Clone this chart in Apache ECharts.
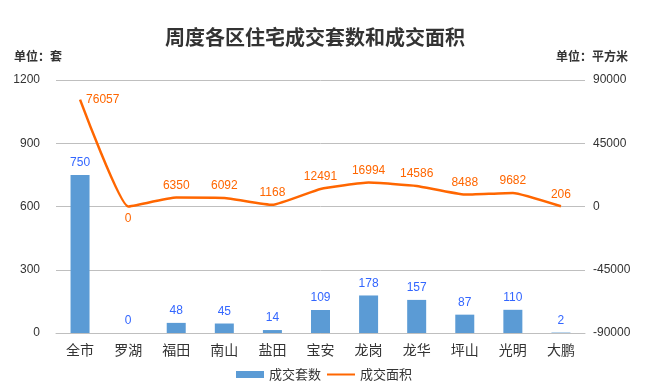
<!DOCTYPE html>
<html><head><meta charset="utf-8">
<script src="https://cdn.jsdelivr.net/npm/echarts@6/dist/echarts.min.js"></script>
<style>html,body{margin:0;padding:0;background:#fff}#c{width:648px;height:390px}</style>
</head><body><div id="c"></div>
<script>
var categories = ['全市','罗湖','福田','南山','盐田','宝安','龙岗','龙华','坪山','光明','大鹏'];
var units = [750,0,48,45,14,109,178,157,87,110,2];
var areas = [76057,0,6350,6092,1168,12491,16994,14586,8488,9682,206];
var leftTicks = [0,300,600,900,1200];
var rightTicks = [-90000,-45000,0,45000,90000];

var chart = echarts.init(document.getElementById('c'));
var lineData = areas.map(function(v,i){
  var pos = 'top';
  if (i === 0) pos = 'right';
  if (i === 1) pos = 'bottom';
  return {value:v, label:{position:pos}};
});
chart.setOption({
  animation:false,
  title:{text:'周度各区住宅成交套数和成交面积', left:310, top:22, textAlign:'center',
    textStyle:{fontFamily:'Noto Sans CJK SC', fontSize:20, fontWeight:'bold', color:'#333'}},
  graphic:[
    {type:'text', left:14, top:50, style:{text:'单位：套', font:'bold 12px "Noto Sans CJK SC"', fill:'#333'}},
    {type:'text', right:20, top:50, style:{text:'单位：平方米', font:'bold 12px "Noto Sans CJK SC"', fill:'#333'}}
  ],
  legend:{bottom:4, left:'center', itemGap:6, itemWidth:28, itemHeight:7, symbolKeepAspect:true,
    textStyle:{fontSize:13, color:'#333', fontFamily:'Noto Sans CJK SC'},
    data:[{name:'成交套数', icon:'rect'},{name:'成交面积', icon:'path://M0,0 L28,0 L28,2 L0,2 Z'}]},
  grid:{left:56, right:63, top:80, bottom:57},
  xAxis:{type:'category', data:categories,
    axisLine:{lineStyle:{color:'#BFBFBF'}}, axisTick:{show:false},
    axisLabel:{fontSize:14, color:'#333', margin:10, fontFamily:'Noto Sans CJK SC'}},
  yAxis:[
    {type:'value', min:0, max:1200, interval:300,
      axisLabel:{fontSize:12, color:'#333', margin:16, formatter:function(v){return String(v);}},
      splitLine:{lineStyle:{color:'#BFBFBF'}}, axisLine:{show:false}, axisTick:{show:false}},
    {type:'value', min:-90000, max:90000, interval:45000,
      axisLabel:{fontSize:12, color:'#333', margin:8, formatter:function(v){return String(v);}},
      splitLine:{show:false}, axisLine:{show:false}, axisTick:{show:false}}
  ],
  series:[
    {name:'成交套数', type:'bar', data:units, barWidth:19, yAxisIndex:0,
      itemStyle:{color:'#5B9BD5'},
      label:{show:true, position:'top', color:'#3366FF', fontSize:12, distance:6}},
    {name:'成交面积', type:'line', data:lineData, yAxisIndex:1, smooth:0.12,
      symbol:'circle', symbolSize:0, showSymbol:true,
      lineStyle:{color:'#FF6600', width:2.5}, itemStyle:{color:'#FF6600'},
      label:{show:true, color:'#FF6600', fontSize:12, distance:6}}
  ]
});
</script></body></html>
